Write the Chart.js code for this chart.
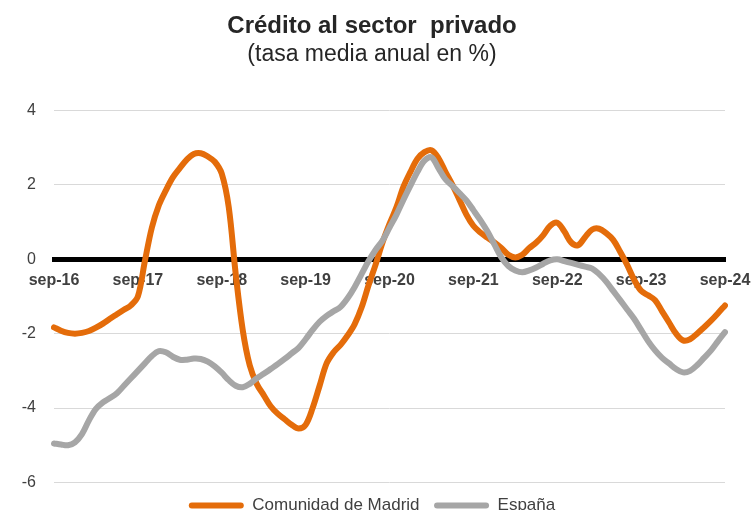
<!DOCTYPE html>
<html>
<head>
<meta charset="utf-8">
<script src="https://cdn.jsdelivr.net/npm/chart.js@4/dist/chart.umd.min.js"></script>
<style>
  html, body { margin: 0; padding: 0; background: #fff; overflow: hidden; }
  #wrap { width: 753px; height: 510px; overflow: hidden; }
  #inner { width: 753px; height: 524px; position: relative; }
</style>
</head>
<body>
<div id="wrap"><div id="inner"><canvas id="credito"></canvas></div></div>
<script>
(function () {
    "use strict";

    // meses sep-16 .. sep-24 (97 puntos)
    var monthNames = ["ene", "feb", "mar", "abr", "may", "jun", "jul", "ago", "sep", "oct", "nov", "dic"];
    var startMonth = 8;   // sep
    var startYear = 16;
    var nMonths = 97;

    var madrid = [
        -1.83, -1.92, -1.98, -2.00, -1.98, -1.93, -1.84, -1.73, -1.60, -1.48, -1.36, -1.24,
        -1.00, -0.05, 0.85, 1.45, 1.85, 2.20, 2.45, 2.68, 2.83, 2.85, 2.76, 2.62,
        2.30, 1.40, -0.40, -1.90, -2.85, -3.35, -3.65, -3.95, -4.15, -4.30, -4.45, -4.55,
        -4.45, -4.00, -3.40, -2.80, -2.50, -2.30, -2.05, -1.75, -1.30, -0.70, -0.15, 0.45,
        0.95, 1.40, 1.95, 2.35, 2.70, 2.88, 2.93, 2.72, 2.35, 2.00, 1.60, 1.20,
        0.90, 0.72, 0.58, 0.45, 0.30, 0.12, 0.05, 0.12, 0.30, 0.45, 0.65, 0.90,
        0.98, 0.75, 0.45, 0.38, 0.60, 0.80, 0.82, 0.70, 0.52, 0.20, -0.15, -0.55,
        -0.85, -0.97, -1.10, -1.40, -1.70, -2.00, -2.18, -2.15, -2.00, -1.83, -1.65, -1.45,
        -1.24
    ];

    var espana = [
        -4.95, -4.98, -5.00, -4.92, -4.70, -4.33, -4.02, -3.85, -3.73, -3.60, -3.40, -3.20,
        -3.00, -2.80, -2.60, -2.47, -2.50, -2.62, -2.70, -2.70, -2.67, -2.68, -2.75, -2.88,
        -3.05, -3.25, -3.40, -3.44, -3.35, -3.20, -3.08, -2.95, -2.82, -2.68, -2.53, -2.38,
        -2.15, -1.90, -1.68, -1.52, -1.40, -1.28, -1.05, -0.75, -0.40, -0.05, 0.25, 0.50,
        0.85, 1.20, 1.60, 1.98, 2.35, 2.65, 2.74, 2.45, 2.15, 1.97, 1.78, 1.58,
        1.32, 1.05, 0.75, 0.40, 0.05, -0.18, -0.30, -0.35, -0.30, -0.22, -0.12, -0.03,
        0.00, -0.05, -0.10, -0.15, -0.20, -0.25, -0.40, -0.60, -0.85, -1.10, -1.35, -1.60,
        -1.90, -2.20, -2.45, -2.65, -2.80, -2.95, -3.04, -3.00, -2.85, -2.65, -2.45, -2.20,
        -1.96
    ];

    var yTicks = [-6, -4, -2, 0, 2, 4];

    var labels = [];
    for (var i = 0; i < nMonths; i++) {
        var m = (startMonth + i) % 12;
        var y = startYear + Math.floor((startMonth + i) / 12);
        labels.push(monthNames[m] + "-" + y);
    }

    var orange = "#E46C0A";
    var grey = "#A6A6A6";
    var textColor = "#404040";
    var fontFamily = "'Liberation Sans', Arial, sans-serif";

    var canvas = document.getElementById("credito");

    new Chart(canvas, {
        type: "line",
        data: {
            labels: labels,
            datasets: [
                {
                    label: "Comunidad de Madrid",
                    data: madrid,
                    borderColor: orange,
                    backgroundColor: orange,
                    borderWidth: 6,
                    pointRadius: 0,
                    tension: 0.35,
                    borderCapStyle: "round",
                    borderJoinStyle: "round",
                    order: 2
                },
                {
                    label: "España",
                    data: espana,
                    borderColor: grey,
                    backgroundColor: grey,
                    borderWidth: 6,
                    pointRadius: 0,
                    tension: 0.35,
                    borderCapStyle: "round",
                    borderJoinStyle: "round",
                    order: 1
                }
            ]
        },
        options: {
            responsive: true,
            maintainAspectRatio: false,
            animation: false,
            layout: {
                padding: { left: 19, right: 28, top: 0, bottom: 0 }
            },
            plugins: {
                title: {
                    display: true,
                    text: "Crédito al sector  privado",
                    color: "#262626",
                    font: { family: fontFamily, size: 24, weight: "bold" },
                    padding: { top: 12, bottom: 0 }
                },
                subtitle: {
                    display: true,
                    text: "(tasa media anual en %)",
                    color: "#262626",
                    font: { family: fontFamily, size: 23 },
                    padding: { top: 0, bottom: 42 }
                },
                legend: {
                    position: "bottom",
                    labels: {
                        color: textColor,
                        font: { family: fontFamily, size: 17 },
                        boxWidth: 55,
                        boxHeight: 6,
                        padding: 14.5,
                        useBorderRadius: true,
                        borderRadius: 3,
                        sort: function (a, b) {
                            return a.datasetIndex - b.datasetIndex;
                        },
                        generateLabels: function (chart) {
                            var items = Chart.defaults.plugins.legend.labels.generateLabels(chart);
                            items.forEach(function (it) {
                                it.lineWidth = 0;
                            });
                            return items;
                        }
                    }
                },
                tooltip: { enabled: false }
            },
            scales: {
                x: {
                    type: "category",
                    position: { y: 0 },
                    offset: false,
                    grid: { display: false, drawTicks: false },
                    border: { display: true, color: "#000000", width: 5 },
                    afterFit: function (scale) {
                        scale.paddingLeft = 0;
                        scale.paddingRight = 0;
                    },
                    ticks: {
                        autoSkip: false,
                        maxRotation: 0,
                        padding: 12,
                        color: textColor,
                        font: { family: fontFamily, size: 16, weight: "bold" },
                        callback: function (value, index) {
                            return index % 12 === 0 ? labels[index] : "";
                        }
                    }
                },
                y: {
                    min: yTicks[0],
                    max: yTicks[yTicks.length - 1],
                    afterBuildTicks: function (scale) {
                        scale.ticks = yTicks.map(function (v) { return { value: v }; });
                    },
                    afterFit: function (scale) {
                        scale.width = 35;
                    },
                    grid: {
                        color: function (ctx) {
                            return ctx.tick && ctx.tick.value === 0 ? "#000000" : "#D9D9D9";
                        },
                        lineWidth: function (ctx) {
                            return ctx.tick && ctx.tick.value === 0 ? 5 : 1;
                        },
                        drawTicks: false
                    },
                    border: { display: false },
                    ticks: {
                        padding: 18,
                        color: textColor,
                        font: { family: fontFamily, size: 16 }
                    }
                }
            }
        }
    });
})();
</script>
</body>
</html>
